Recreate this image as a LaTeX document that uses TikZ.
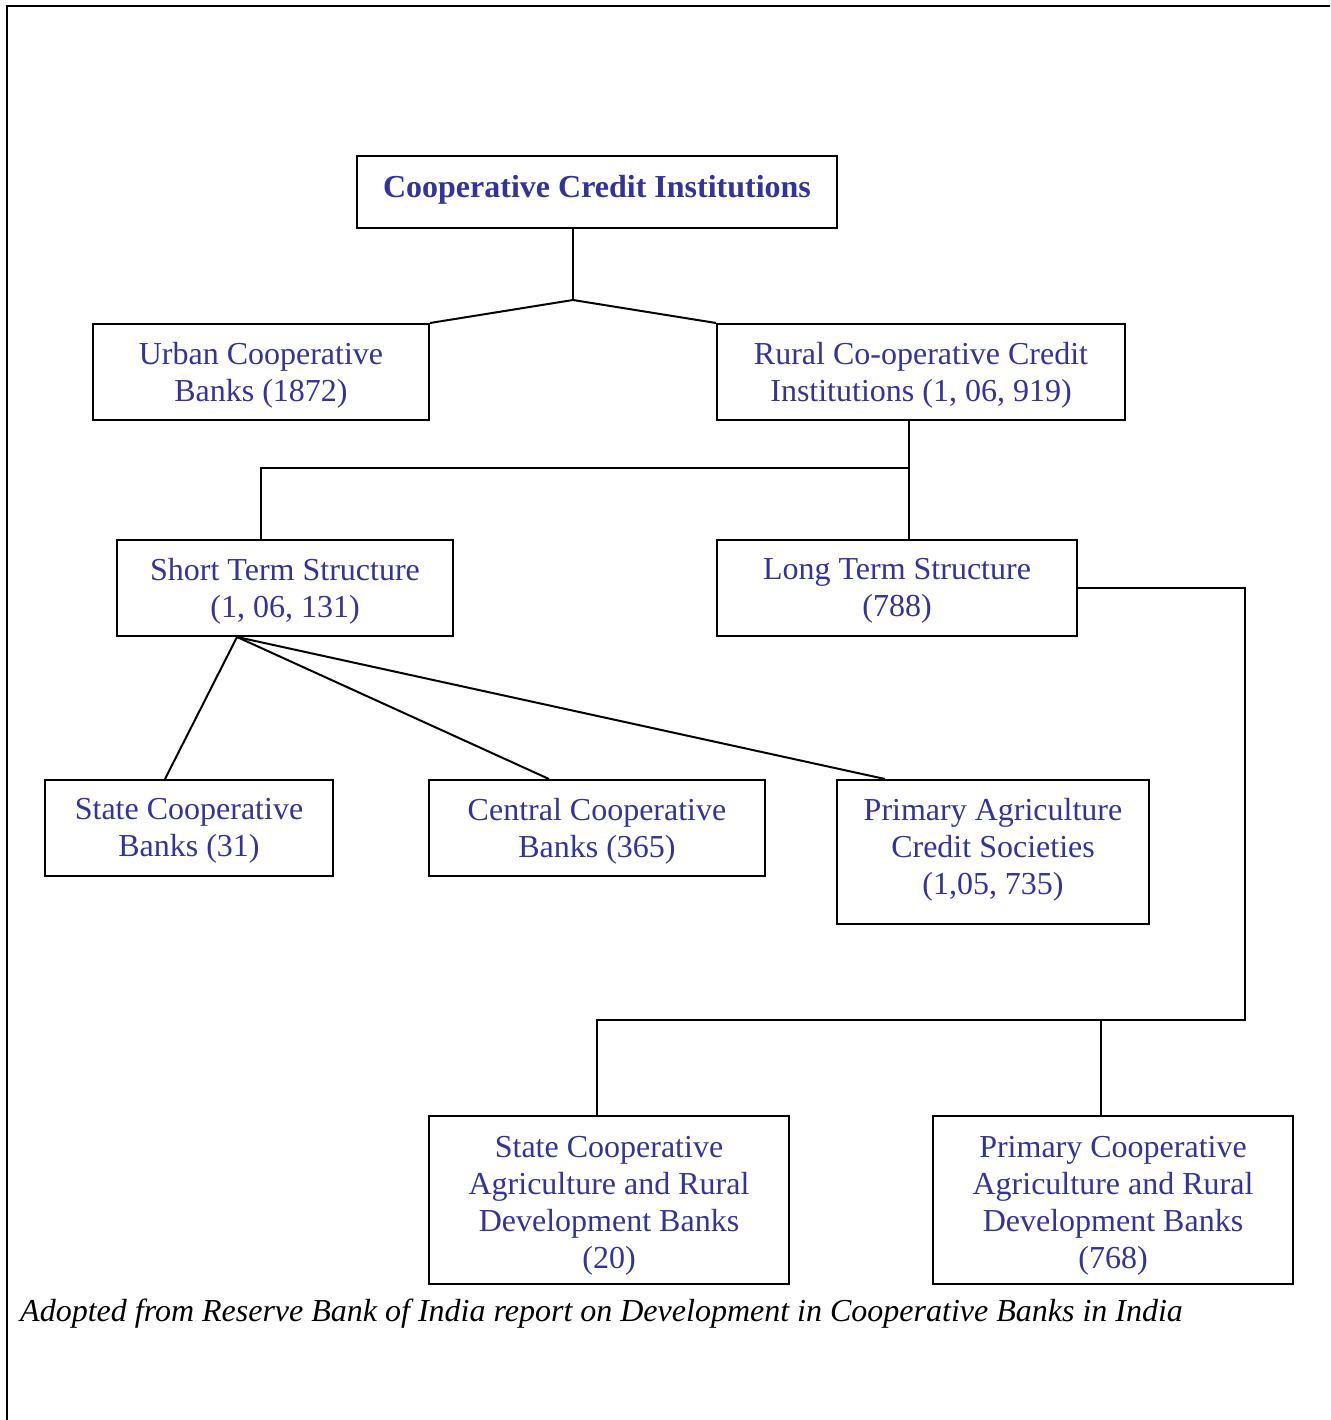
\documentclass[tikz,border=0pt]{standalone}
\usepackage{fontspec}
\setmainfont{Liberation Serif}
\definecolor{txtblue}{RGB}{51,51,153}
\begin{document}
\begin{tikzpicture}[x=1pt,y=-1pt,
  box/.style={draw,line width=2pt,inner sep=0pt},
  boxtext/.style={align=center,inner sep=0pt,text=txtblue,
    font=\fontsize{32}{37}\selectfont,yshift=-3pt},
  conn/.style={line width=2pt}]
\useasboundingbox (0,0) rectangle (1330,1420);
\fill[white] (0,0) rectangle (1330,1420);
\draw[line width=2.5pt] (7,1420) -- (7,6) -- (1330,6);

\node[box,minimum width=480pt,minimum height=72pt,
  label={[boxtext,yshift=5pt]center:{\bfseries Cooperative Credit Institutions}}] (cci) at (597,192) {};
\node[box,minimum width=336pt,minimum height=96pt,
  label={[boxtext]center:{Urban Cooperative\\Banks (1872)}}] (urban) at (261,372) {};
\node[box,minimum width=408pt,minimum height=96pt,
  label={[boxtext]center:{Rural Co-operative Credit\\Institutions (1, 06, 919)}}] (rural) at (921,372) {};
\node[box,minimum width=336pt,minimum height=96pt,
  label={[boxtext]center:{Short Term Structure\\(1, 06, 131)}}] (short) at (285,588) {};
\node[box,minimum width=360pt,minimum height=96pt,
  label={[boxtext]center:{Long Term Structure\\(788)}}] (long) at (897,588) {};
\node[box,minimum width=288pt,minimum height=96pt,
  label={[boxtext]center:{State Cooperative\\Banks (31)}}] (scb) at (189,828) {};
\node[box,minimum width=336pt,minimum height=96pt,
  label={[boxtext]center:{Central Cooperative\\Banks (365)}}] (ccb) at (597,828) {};
\node[box,minimum width=312pt,minimum height=144pt,
  label={[boxtext,yshift=5pt]center:{Primary Agriculture\\Credit Societies\\(1,05, 735)}}] (pacs) at (993,852) {};
\node[box,minimum width=360pt,minimum height=168pt,
  label={[boxtext,yshift=-3pt]center:{State Cooperative\\Agriculture and Rural\\Development Banks\\(20)}}] (scardb) at (609,1200) {};
\node[box,minimum width=360pt,minimum height=168pt,
  label={[boxtext,yshift=-3pt]center:{Primary Cooperative\\Agriculture and Rural\\Development Banks\\(768)}}] (pcardb) at (1113,1200) {};

\node[anchor=base west,inner sep=0pt,font=\itshape\fontsize{32}{37}\selectfont] (cap) at (20,1321) {Adopted from Reserve Bank of India report on Development in Cooperative Banks in India};

% connectors
\coordinate (j1) at (573,300);
\draw[conn] (j1 |- cci.south) -- (j1);
\draw[conn] (urban.north east) -- (j1) -- (rural.north west);

\coordinate (j2) at (909,468);
\coordinate (j3) at (261,468);
\draw[conn] (j2 |- rural.south) -- (j2 |- long.north);
\draw[conn] (j2) -- (j3) -- (j3 |- short.north);

\coordinate (sx) at (237,700);
\coordinate (t1) at (165,700);
\coordinate (t2) at (549,700);
\coordinate (t3) at (885,700);
\draw[conn] (t1 |- scb.north) -- (sx |- short.south) -- (t2 |- ccb.north);
\draw[conn] (sx |- short.south) -- (t3 |- pacs.north);

\coordinate (j4) at (1245,1020);
\coordinate (j5) at (597,1020);
\coordinate (j6) at (1101,1020);
\draw[conn] (long.east) -| (j4) -- (j5) -- (j5 |- scardb.north);
\draw[conn] (j6) -- (j6 |- pcardb.north);
\end{tikzpicture}
\end{document}
